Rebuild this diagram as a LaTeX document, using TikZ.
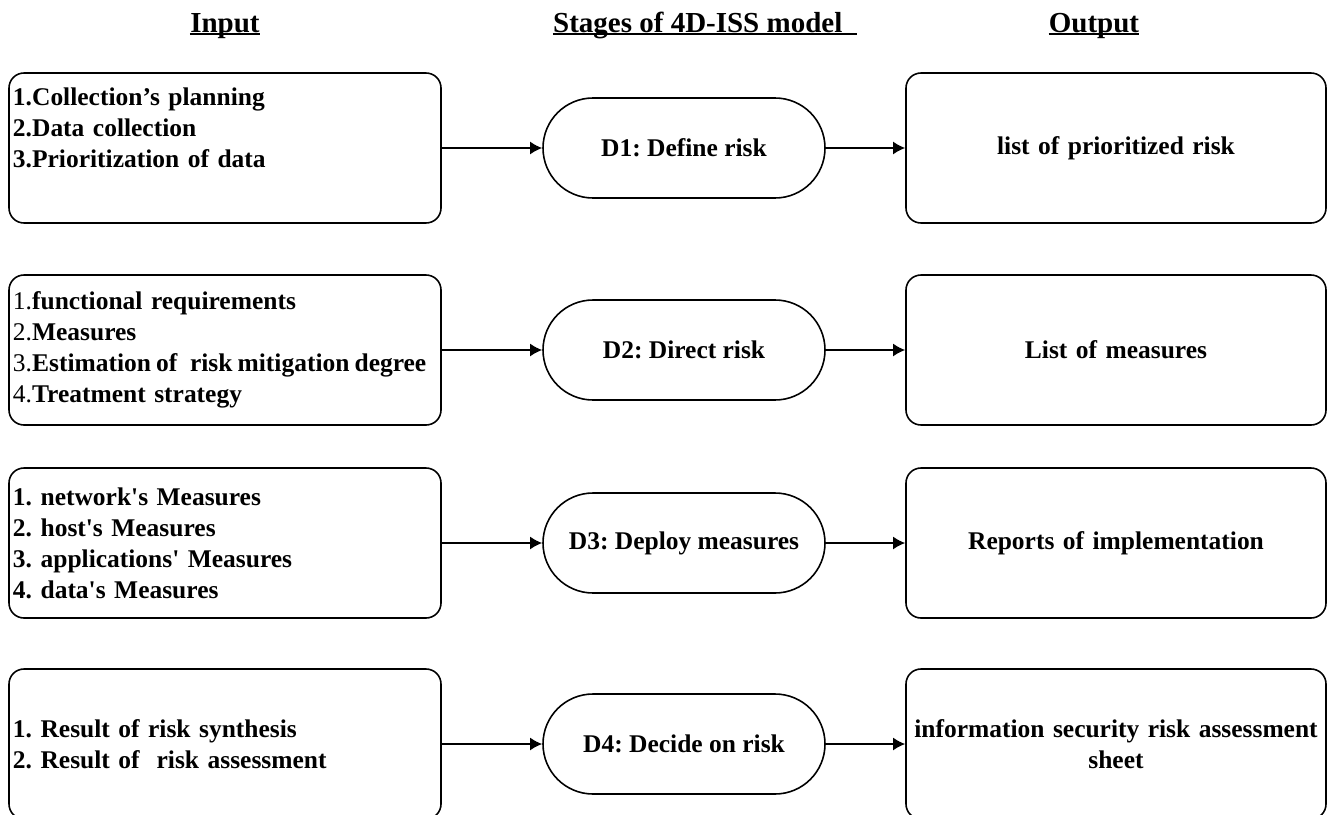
\documentclass[tikz,border=0pt]{standalone}
\usepackage{fontspec}
\setmainfont{Liberation Serif}
\usetikzlibrary{arrows.meta}
\frenchspacing

\begin{document}
\begin{tikzpicture}[
	inbox/.style={draw, line width=0.9pt, rounded corners=0.3cm, minimum height=3cm, text width=8.48cm, inner xsep=0.08cm, align=left, font=\fontsize{14.5}{17.6}\selectfont\bfseries},
	outbox/.style={draw, line width=0.9pt, rounded corners=0.3cm, minimum height=3cm, text width=8.3cm, inner xsep=0.05cm, align=center, font=\fontsize{14.5}{17.6}\selectfont\bfseries},
	stagebox/.style={draw, line width=0.9pt, rounded corners=1cm, minimum width=5.64cm, minimum height=2cm, font=\fontsize{14.5}{17.6}\selectfont\bfseries},
	head/.style={inner sep=0, anchor=base, font=\fontsize{16.5}{19}\selectfont\bfseries},
	>={Latex[length=2.4mm,width=2.6mm]}]
	\clip (0,0) rectangle (26.56,-16.28);
	\node[head] (hin) at (4.5,-0.64) {Input};
	\node[head] (hst) at (14.1,-0.64) {Stages of 4D-ISS model\kern0.5em};
	\node[head] (hout) at (21.88,-0.64) {Output};
	\foreach \h in {hin,hst,hout}
		\draw[line width=0.8pt] ([yshift=-0.04cm]\h.base west) -- ([yshift=-0.04cm]\h.base east);
	\foreach \i/\y/\intext/\stext/\otext in {
		1/-2.96/{1.Collection’s planning\\2.Data collection\\3.Prioritization of data\\\strut}/{D1: Define risk}/{list of prioritized risk},
		2/-7.0/{{\mdseries 1.}functional requirements\\{\mdseries 2.}Measures\\{\mdseries 3.}{\spaceskip=0.2em Estimation of\hspace{0.5em}risk mitigation degree}\\{\mdseries 4.}Treatment strategy}/{D2: Direct risk}/{List of measures},
		3/-10.86/{1. network\textquotesingle s Measures\\2. host\textquotesingle s Measures\\3. applications\textquotesingle\ Measures\\4. data\textquotesingle s Measures}/{D3: Deploy measures}/{Reports of implementation},
		4/-14.88/{1. Result of risk synthesis\\2. Result of\ \ risk assessment}/{D4: Decide on risk}/{information security risk assessment\\sheet}}{
		\node[inbox] (in\i) at (4.5,\y) {\intext};
		\node[stagebox] (st\i) at (13.68,\y) {\stext};
		\node[outbox] (out\i) at (22.32,\y) {\otext};
		\draw[->, line width=1pt] (in\i) -- (st\i);
		\draw[->, line width=1pt] (st\i) -- (out\i);
	}
\end{tikzpicture}
\end{document}
